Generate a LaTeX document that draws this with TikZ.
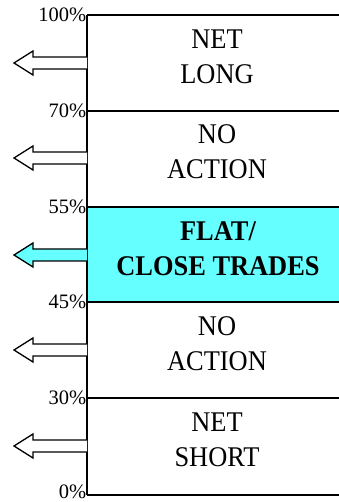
\documentclass[tikz,border=0pt]{standalone}
\usepackage{fontspec}
\setmainfont{Liberation Serif}
\usetikzlibrary{arrows}
\definecolor{flatcyan}{RGB}{102,255,255}
\tikzset{
  level/.style={line width=1.6pt},
  pctlabel/.style={anchor=base east,inner xsep=0.5pt,inner ysep=0pt,font=\fontsize{20.5}{22}\selectfont},
  zonetext/.style={align=center,inner sep=0pt,yscale=1.08,transform shape,
    font=\fontsize{26.4}{32.4}\selectfont},
  outarrow/.style={line width=1.3pt,line join=miter}
}

\begin{document}
\begin{tikzpicture}[x=1pt,y=1pt]
                \useasboundingbox (0,0) rectangle (339,502);
                % The flat band
                \fill[flatcyan] (87,200) rectangle (339,295);
                % The levels
                \foreach \yy/\dy/\pct [count=\i] in {487/-6.5/100,391/-6.5/70,295/-6.5/55,200/-6.5/45,104/-6.5/30,7/-3/0}
                {
                  \draw[level] (87,\yy) -- (339,\yy);
                  \node[pctlabel] (pct\i) at (87,\yy+\dy) {\pct\%};
                }
                % The axis
                \draw[level] (87,7) -- (87,487);
                % The arrows
                \foreach \yy/\col in {439/white,344/white,247/flatcyan,152/white,56/white}
                {
                  \draw[outarrow,fill=\col] (87,\yy+6) -- (33,\yy+6) -- (33,\yy+12) -- (14,\yy)
                    -- (33,\yy-12) -- (33,\yy-6) -- (87,\yy-6);
                }
                % The zones
                \node[zonetext] (netlong) at (217,445) {NET\\LONG};
                \node[zonetext] (noaction1) at (217,350) {NO\\ACTION};
                \node[zonetext,font=\fontsize{26.4}{32.4}\selectfont\bfseries] (flat) at (218,253) {FLAT/\\CLOSE TRADES};
                \node[zonetext] (noaction2) at (217,158) {NO\\ACTION};
                \node[zonetext] (netshort) at (217,62) {NET\\SHORT};
\end{tikzpicture}
\end{document}
